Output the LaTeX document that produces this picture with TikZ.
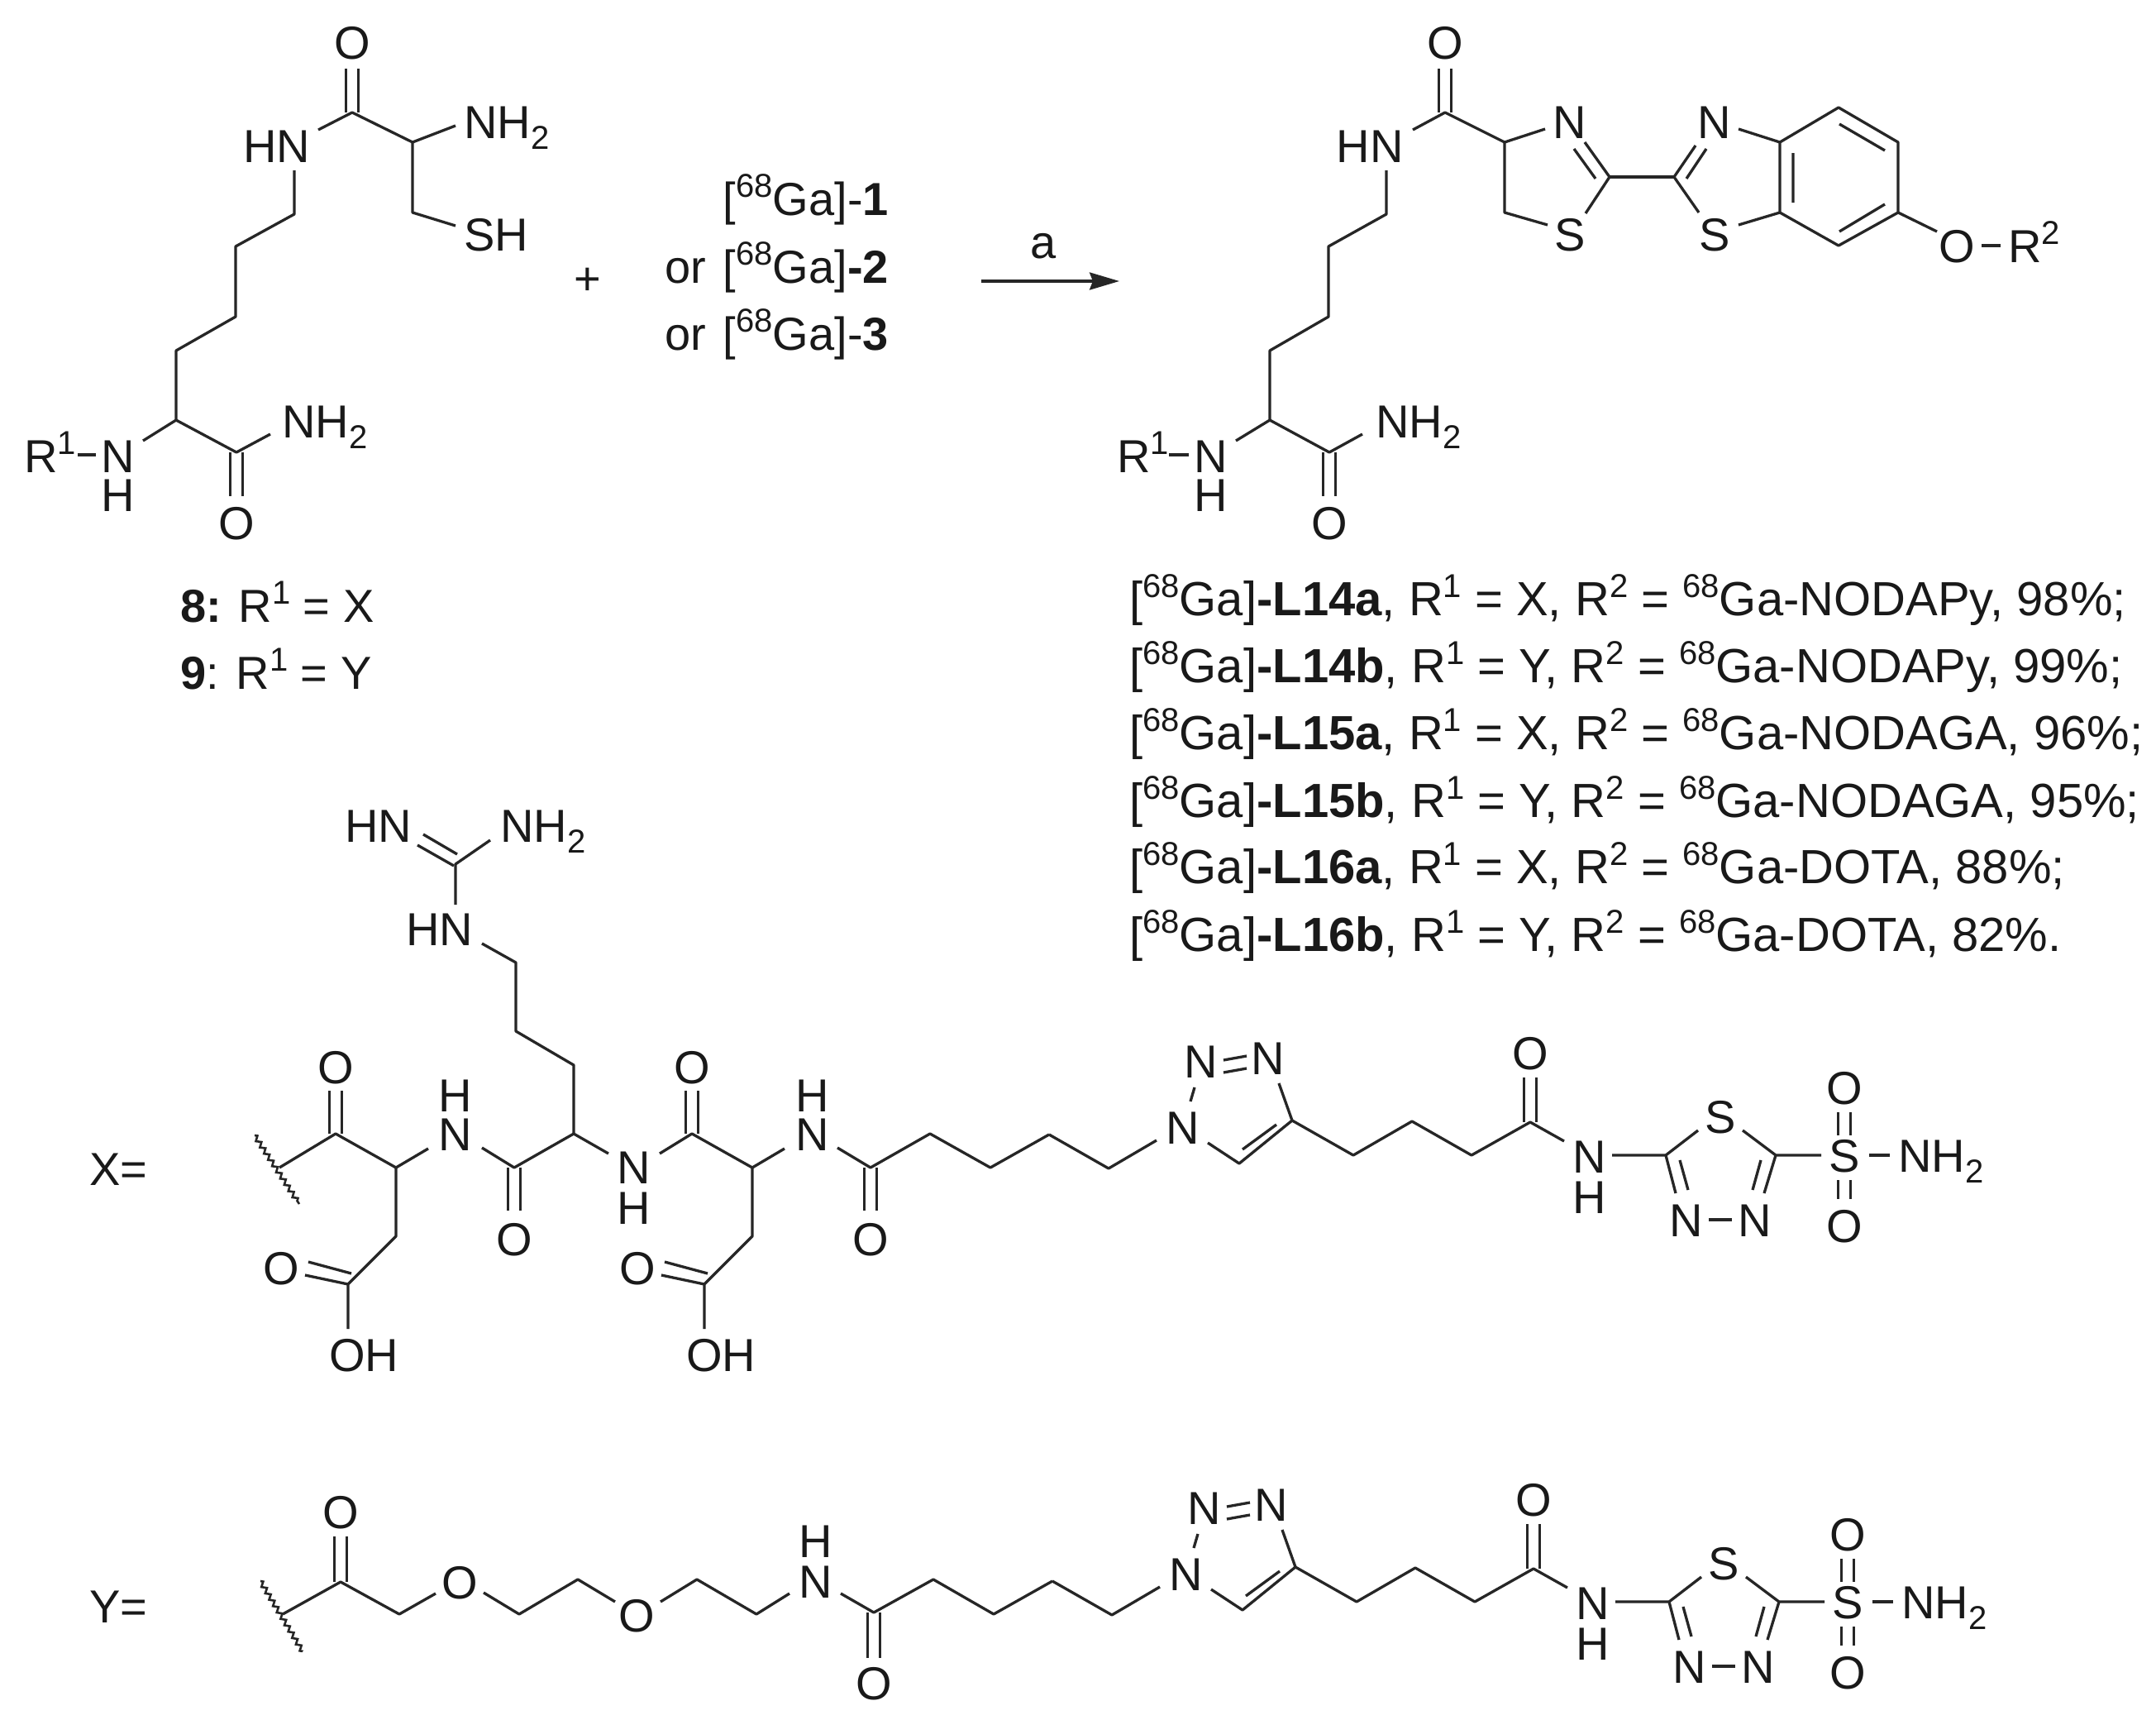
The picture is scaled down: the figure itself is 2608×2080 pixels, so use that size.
\documentclass[tikz,border=0pt]{standalone}
\usepackage{fontspec}
\setmainfont{Liberation Sans}
\usetikzlibrary{arrows.meta,decorations.pathmorphing}
\newcommand{\spr}[1]{\raisebox{22pt}{\fontsize{40}{40}\selectfont #1}}
\newcommand{\sbs}[1]{\raisebox{-13pt}{\fontsize{40}{40}\selectfont #1}}
\newcommand{\vdbl}[3]{\draw[bond] ({#1-7.5},#2)--({#1-7.5},#3) ({#1+7.5},#2)--({#1+7.5},#3);}
\newcommand{\lsize}{\fontsize{58}{60}\selectfont}
\tikzset{
  bond/.style={line width=3.3pt,draw=black!85,line join=round},
  atom/.style={anchor=base,inner sep=0pt,text=black!90},
  atomw/.style={anchor=base west,inner sep=0pt,text=black!90},
  labele/.style={anchor=base east,inner sep=0pt,text=black!90},
  wavy/.style={line width=2.6pt,draw=black!85,decorate,decoration={zigzag,segment length=9pt,amplitude=2.6pt}},
}
% triazole / thiadiazole tail shared by X and Y
\newcommand{\tailpart}{%
  \draw[bond] (1269,1372)--(1341,1413)--(1399,1379);
  \node[atom] (n1) at (1431,1383) {N};
  \node[atom] (n2) at (1453,1303) {N};
  \node[atom] (n3) at (1534,1299) {N};
  \draw[bond] (1440,1332)--(1445,1315);
  \draw[bond] (1480,1282)--(1508,1277) (1480,1297)--(1508,1292);
  \draw[bond] (1547,1310)--(1563,1355)--(1499,1407)--(1461,1382);
  \draw[bond] (1503,1390)--(1544,1360);
  \draw[bond] (1563,1355)--(1637,1397)--(1708,1356)--(1780,1397)--(1851,1357)--(1892,1380);
  \vdbl{1851}{1357}{1303}
  \node[atom] (o) at (1851,1293) {O};
  \node[atom] (nh) at (1923,1418) {N};
  \node[atom] (h) at (1923,1467) {H};
  \draw[bond] (1950,1397)--(2015,1397)--(2054,1367);
  \draw[bond] (2108,1367)--(2148,1397)--(2203,1397);
  \node[atom] (s) at (2081,1370) {S};
  \draw[bond] (2015,1397)--(2027,1443) (2032,1403)--(2042,1439);
  \draw[bond] (2148,1397)--(2134,1443) (2130,1403)--(2120,1439);
  \node[atom] (na) at (2040,1495) {N};
  \node[atom] (nb) at (2123,1495) {N};
  \draw[bond] (2067,1475)--(2095,1475);
  \node[atom] (so) at (2231,1417) {S};
  \vdbl{2231}{1373}{1345}
  \vdbl{2231}{1427}{1450}
  \node[atom] (ou) at (2231,1335) {O};
  \node[atom] (od) at (2231,1502) {O};
  \draw[bond] (2261,1397)--(2286,1397);
  \node[atomw] (nh2) at (2296,1417) {NH\sbs{2}};
}
\begin{document}
\begin{tikzpicture}[x=1pt,y=-1pt,font=\fontsize{56}{60}\selectfont]
\useasboundingbox (0,0) rectangle (2608,2080);
\fill[white] (0,0) rectangle (2608,2080);

% --- reactant ---
\vdbl{426}{136}{83}
\node[atom] (ao) at (426,71) {O};
\draw[bond] (385,157)--(426,136)--(499,172)--(551,152);
\draw[bond] (499,172)--(499,257)--(551,273);
\node[atomw] (anh2) at (561,167) {NH\sbs{2}};
\node[atomw] (ash) at (561,303) {SH};
\node[atom] (ahn) at (335,196) {HN};
\draw[bond] (356,206)--(356,259)--(285,298)--(285,383)--(213,424)--(213,508)--(173,533);
\draw[bond] (213,508)--(286,547)--(327,525);
\vdbl{286}{547}{600}
\node[atom] (ao2) at (286,652) {O};
\node[atomw] (anh22) at (341,529) {NH\sbs{2}};
\node[atom] (an) at (143,571) {N};
\node[atom] (ah) at (143,618) {H};
\node[atomw] (ar) at (29,571) {R\spr{1}};
\draw[bond] (94,550)--(116,550);
\node[atom] (plus) at (711,356) {+};

% --- reagents ---
\node[labele] (r1) at (1075,260) {[\spr{68}Ga]-\textbf{1}};
\node[labele] (r2) at (1075,342) {or\hspace{5pt} [\spr{68}Ga]\textbf{-2}};
\node[labele] (r3) at (1075,423) {or\hspace{5pt} [\spr{68}Ga]-\textbf{3}};
\node[atom] (alab) at (1262,312) {a};
\coordinate (arrs) at (1187,340);
\coordinate (arre) at (1354,340);
\draw[line width=3.4pt,draw=black!85,-{Stealth[length=36pt,width=21pt,inset=4pt]}] (arrs)--(arre);

% --- product ---
\vdbl{1748}{136}{83}
\node[atom] (po) at (1748,71) {O};
\node[atom] (phn) at (1657,196) {HN};
\draw[bond] (1709,157)--(1748,136)--(1820,172)--(1869,156);
\draw[bond] (1820,172)--(1820,257)--(1872,272);
\node[atom] (pn1) at (1899,167) {N};
\node[atom] (ps1) at (1899,303) {S};
\draw[bond] (1917,172)--(1947,214)--(1918,258);
\draw[bond] (1904,180)--(1930,216);
\draw[bond] (1947,214)--(2025,214);
\draw[bond] (2051,176)--(2025,214)--(2055,257);
\draw[bond] (2064,180)--(2040,216);
\node[atom] (pn2) at (2074,167) {N};
\node[atom] (ps2) at (2074,303) {S};
\draw[bond] (2103,156)--(2153,172) (2103,272)--(2153,257);
\draw[bond] (2153,172)--(2224,130)--(2296,172)--(2296,257)--(2224,297)--(2153,257)--cycle;
\draw[bond] (2225,150)--(2280,182) (2280,247)--(2225,280) (2169,185)--(2169,245);
\draw[bond] (2296,257)--(2343,280);
\node[atom] (po2) at (2367,317) {O};
\draw[bond] (2397,297)--(2420,297);
\node[atomw] (pr2) at (2429,317) {R\spr{2}};
\draw[bond] (1677,206)--(1677,259)--(1607,298)--(1607,383)--(1536,424)--(1536,508)--(1495,533);
\draw[bond] (1536,508)--(1608,547)--(1648,525);
\vdbl{1608}{547}{600}
\node[atom] (po3) at (1608,652) {O};
\node[atomw] (pnh2) at (1664,529) {NH\sbs{2}};
\node[atom] (pn) at (1465,571) {N};
\node[atom] (ph) at (1465,618) {H};
\node[atomw] (pr) at (1351,571) {R\spr{1}};
\draw[bond] (1414,550)--(1438,550);

% --- labels ---
\node[atomw] (l8) at (218,752) {\textbf{8:} R\spr{1} = X};
\node[atomw] (l9) at (218,833) {\textbf{9}: R\spr{1} = Y};
\node[atomw,font=\lsize] (t1) at (1366,744) {[\spr{68}Ga]\textbf{-L14a}, R\spr{1} = X, R\spr{2} = \spr{68}Ga-NODAPy, 98\%;};
\node[atomw,font=\lsize] (t2) at (1366,825) {[\spr{68}Ga]\textbf{-L14b}, R\spr{1} = Y, R\spr{2} = \spr{68}Ga-NODAPy, 99\%;};
\node[atomw,font=\lsize] (t3) at (1366,906) {[\spr{68}Ga]\textbf{-L15a}, R\spr{1} = X, R\spr{2} = \spr{68}Ga-NODAGA, 96\%;};
\node[atomw,font=\lsize] (t4) at (1366,988) {[\spr{68}Ga]\textbf{-L15b}, R\spr{1} = Y, R\spr{2} = \spr{68}Ga-NODAGA, 95\%;};
\node[atomw,font=\lsize] (t5) at (1366,1068) {[\spr{68}Ga]\textbf{-L16a}, R\spr{1} = X, R\spr{2} = \spr{68}Ga-DOTA, 88\%;};
\node[atomw,font=\lsize] (t6) at (1366,1150) {[\spr{68}Ga]\textbf{-L16b}, R\spr{1} = Y, R\spr{2} = \spr{68}Ga-DOTA, 82\%.};

% --- X ---
\node[atomw] (xl) at (108,1433) {X=};
\draw[wavy] (308,1373)--(362,1456);
\draw[bond] (338,1412)--(406,1371)--(479,1412)--(518,1389);
\vdbl{406}{1371}{1319}
\node[atom] (xo1) at (406,1310) {O};
\node[atom] (xn1) at (551,1391) {N};
\node[atom] (xh1) at (551,1344) {H};
\draw[bond] (479,1412)--(479,1495)--(421,1553)--(421,1607);
\draw[bond] (421,1553)--(369,1542) ;
\draw[bond] (425,1540)--(373,1526);
\node[atom] (xo2) at (340,1553) {O};
\node[atom] (xoh1) at (440,1658) {OH};
\draw[bond] (583,1388)--(622,1412)--(694,1371)--(736,1395);
\vdbl{622}{1412}{1464}
\node[atom] (xo3) at (622,1518) {O};
\draw[bond] (694,1371)--(694,1288)--(624,1247)--(624,1164)--(583,1141);
\node[atom] (xhn) at (532,1143) {HN};
\draw[bond] (551,1094)--(551,1045)--(593,1016);
\draw[bond] (505,1022)--(549,1047) (512,1009)--(553,1033);
\node[atom] (xhn2) at (458,1018) {HN};
\node[atomw] (xnh2) at (605,1018) {NH\sbs{2}};
\node[atom] (xn2) at (767,1431) {N};
\node[atom] (xh2) at (767,1480) {H};
\draw[bond] (798,1395)--(837,1371)--(910,1412)--(949,1389);
\vdbl{837}{1371}{1319}
\node[atom] (xo4) at (837,1310) {O};
\node[atom] (xn3) at (983,1391) {N};
\node[atom] (xh3) at (983,1344) {H};
\draw[bond] (910,1412)--(910,1495)--(852,1553)--(852,1607);
\draw[bond] (852,1553)--(800,1542);
\draw[bond] (856,1540)--(804,1526);
\node[atom] (xo5) at (771,1553) {O};
\node[atom] (xoh2) at (872,1658) {OH};
\draw[bond] (1013,1388)--(1053,1412)--(1125,1371)--(1198,1412)--(1269,1372);
\vdbl{1053}{1412}{1464}
\node[atom] (xo6) at (1053,1518) {O};
\begin{scope}[name prefix=tx-]
\tailpart
\end{scope}

% --- Y ---
\node[atomw] (yl) at (108,1962) {Y=};
\draw[wavy] (315,1912)--(366,1997);
\draw[bond] (342,1952)--(412,1913)--(483,1952)--(527,1927);
\vdbl{412}{1913}{1858}
\node[atom] (yo1) at (412,1848) {O};
\node[atom] (yo2) at (556,1933) {O};
\draw[bond] (585,1926)--(628,1952)--(699,1910)--(744,1937);
\node[atom] (yo3) at (770,1973) {O};
\draw[bond] (799,1937)--(843,1910)--(915,1952)--(955,1927);
\node[atom] (yn) at (987,1932) {N};
\node[atom] (yh) at (987,1883) {H};
\draw[bond] (1017,1927)--(1057,1950)--(1129,1910)--(1202,1952)--(1273,1912);
\vdbl{1057}{1950}{2005}
\node[atom] (yo4) at (1057,2055) {O};
\begin{scope}[shift={(4,540)},name prefix=ty-]
\tailpart
\end{scope}
\end{tikzpicture}
\end{document}
